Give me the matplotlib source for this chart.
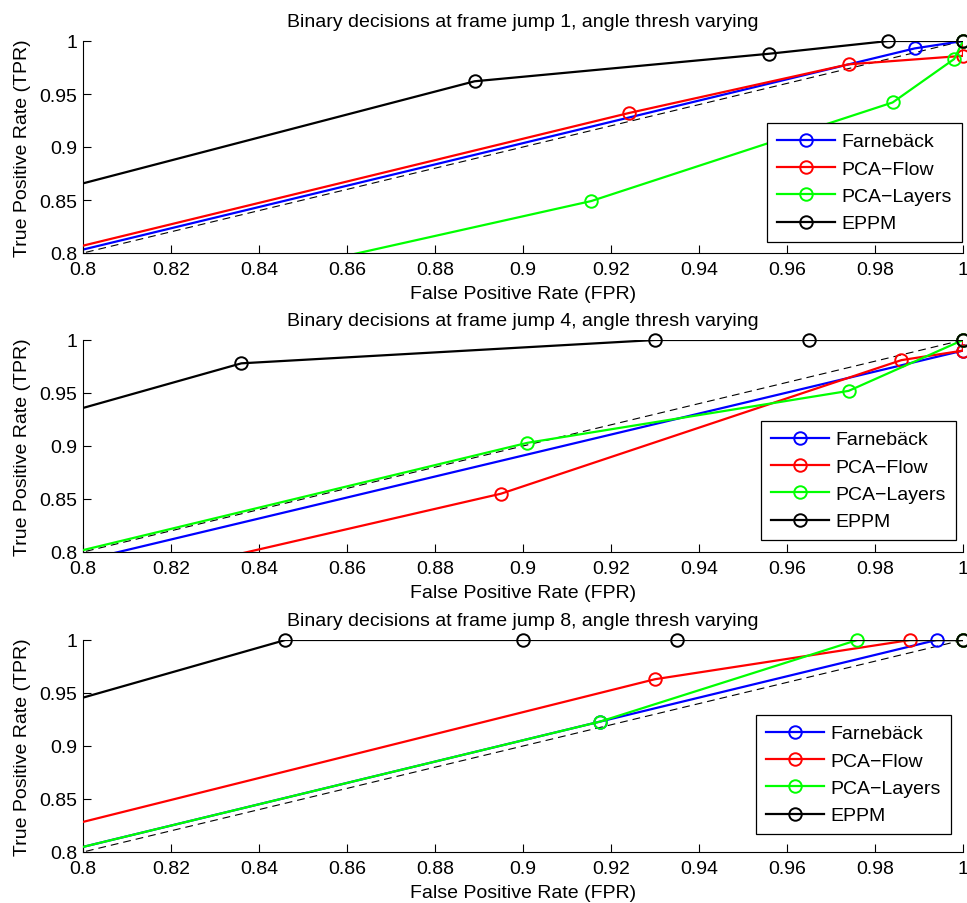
import matplotlib
matplotlib.use("Agg")
import matplotlib.pyplot as plt
from matplotlib.lines import Line2D
import numpy as np

plt.rcParams['font.family'] = ['Liberation Sans', 'DejaVu Sans']

methods = ["Farnebäck", "PCA\u2212Flow", "PCA\u2212Layers", "EPPM"]
colors = ["#0000ff", "#ff0000", "#00ff00", "#000000"]
titles = ["Binary decisions at frame jump 1, angle thresh varying",
          "Binary decisions at frame jump 4, angle thresh varying",
          "Binary decisions at frame jump 8, angle thresh varying"]

# ---- frame jump 1 ----
j1_farneback_fpr = [0.0, 0.989, 1.0]
j1_farneback_tpr = [0.0, 0.993, 1.0]
j1_pcaflow_fpr = [0.0, 0.924, 0.974, 1.0, 1.0]
j1_pcaflow_tpr = [0.0, 0.932, 0.978, 0.986, 1.0]
j1_pcalayers_fpr = [0.0, 0.9155, 0.984, 0.998, 1.0]
j1_pcalayers_tpr = [0.0, 0.849, 0.942, 0.983, 1.0]
j1_eppm_fpr = [0.0, 0.889, 0.956, 0.983, 1.0]
j1_eppm_tpr = [0.0, 0.962, 0.988, 1.0, 1.0]

# ---- frame jump 4 ----
j4_farneback_fpr = [0.0, 1.0, 1.0]
j4_farneback_tpr = [0.0, 0.990, 1.0]
j4_pcaflow_fpr = [0.0, 0.895, 0.986, 1.0, 1.0]
j4_pcaflow_tpr = [0.0, 0.855, 0.981, 0.990, 1.0]
j4_pcalayers_fpr = [0.0, 0.901, 0.974, 1.0]
j4_pcalayers_tpr = [0.0, 0.903, 0.952, 1.0]
j4_eppm_fpr = [0.0, 0.836, 0.930, 0.965, 1.0]
j4_eppm_tpr = [0.0, 0.978, 1.0, 1.0, 1.0]

# ---- frame jump 8 ----
j8_farneback_fpr = [0.0, 0.9175, 0.994, 1.0]
j8_farneback_tpr = [0.0, 0.923, 1.0, 1.0]
j8_pcaflow_fpr = [0.0, 0.930, 0.988, 1.0]
j8_pcaflow_tpr = [0.0, 0.963, 1.0, 1.0]
j8_pcalayers_fpr = [0.0, 0.9175, 0.976, 1.0]
j8_pcalayers_tpr = [0.0, 0.923, 1.0, 1.0]
j8_eppm_fpr = [0.0, 0.846, 0.900, 0.935, 1.0]
j8_eppm_tpr = [0.0, 1.0, 1.0, 1.0, 1.0]

panels = [
    [(j1_farneback_fpr, j1_farneback_tpr), (j1_pcaflow_fpr, j1_pcaflow_tpr),
     (j1_pcalayers_fpr, j1_pcalayers_tpr), (j1_eppm_fpr, j1_eppm_tpr)],
    [(j4_farneback_fpr, j4_farneback_tpr), (j4_pcaflow_fpr, j4_pcaflow_tpr),
     (j4_pcalayers_fpr, j4_pcalayers_tpr), (j4_eppm_fpr, j4_eppm_tpr)],
    [(j8_farneback_fpr, j8_farneback_tpr), (j8_pcaflow_fpr, j8_pcaflow_tpr),
     (j8_pcalayers_fpr, j8_pcalayers_tpr), (j8_eppm_fpr, j8_eppm_tpr)],
]

xticks = [0.8, 0.82, 0.84, 0.86, 0.88, 0.9, 0.92, 0.94, 0.96, 0.98, 1.0]
xticklabels = ["0.8", "0.82", "0.84", "0.86", "0.88", "0.9", "0.92", "0.94", "0.96", "0.98", "1"]
yticks = [0.8, 0.85, 0.9, 0.95, 1.0]
yticklabels = ["0.8", "0.85", "0.9", "0.95", "1"]

W, H = 967, 904
fig = plt.figure(figsize=(W / 100, H / 100), dpi=100)

axes_px = [(42, 254), (341, 553), (641, 853)]
legend_px = [(767, 124), (761, 422), (756, 716)]
x0px, x1px = 83, 963
FS = 14

for i, (top, bot) in enumerate(axes_px):
    ax = fig.add_axes([x0px / W, 1 - bot / H, (x1px - x0px) / W, (bot - top) / H])
    ax.plot([0, 1], [0, 1], linestyle=(0, (7, 4.5)), color="black", lw=0.8, zorder=1)
    handles = []
    for k, (fx, ty) in enumerate(panels[i]):
        fx = np.array(fx); ty = np.array(ty)
        ax.plot(fx, ty, color=colors[k], lw=1.6, zorder=2 + k)
        m = (fx >= 0.8 - 1e-9) & (ty >= 0.8 - 1e-9)
        ax.plot(fx[m], ty[m], linestyle="none", marker="o", markersize=9,
                markerfacecolor="none", markeredgecolor=colors[k],
                markeredgewidth=1.4, clip_on=False, zorder=2 + k)
        handles.append(Line2D([], [], color=colors[k], lw=1.6, marker="o",
                              markersize=9, markerfacecolor="none",
                              markeredgewidth=1.4, markeredgecolor=colors[k]))
    ax.set_xlim(0.8, 1.0)
    ax.set_ylim(0.8, 1.0)
    ax.set_xticks(xticks)
    ax.set_xticklabels(xticklabels)
    ax.set_yticks(yticks)
    ax.set_yticklabels(yticklabels)
    ax.tick_params(direction="in", length=6, width=0.8, labelsize=FS)
    ax.tick_params(axis="x", pad=6)
    ax.tick_params(axis="y", pad=4)
    ax.spines["top"].set_visible(False)
    ax.spines["right"].set_visible(False)
    ax.set_title(titles[i], fontsize=FS, pad=11)
    ax.set_xlabel("False Positive Rate (FPR)", fontsize=FS, labelpad=5)
    ax.set_ylabel("True Positive Rate (TPR)", fontsize=FS, labelpad=6)
    lx, ly = legend_px[i]
    leg = ax.legend(handles, methods, loc="upper left",
                    bbox_to_anchor=((lx - x0px) / (x1px - x0px), 1 - (ly - top) / (bot - top)),
                    fontsize=FS, frameon=True, fancybox=False, framealpha=1,
                    edgecolor="black", handlelength=3.0, handletextpad=0.35,
                    borderpad=0.5, labelspacing=0.5, borderaxespad=0)
    leg.get_frame().set_linewidth(0.9)

fig.savefig("out.png", dpi=100)
